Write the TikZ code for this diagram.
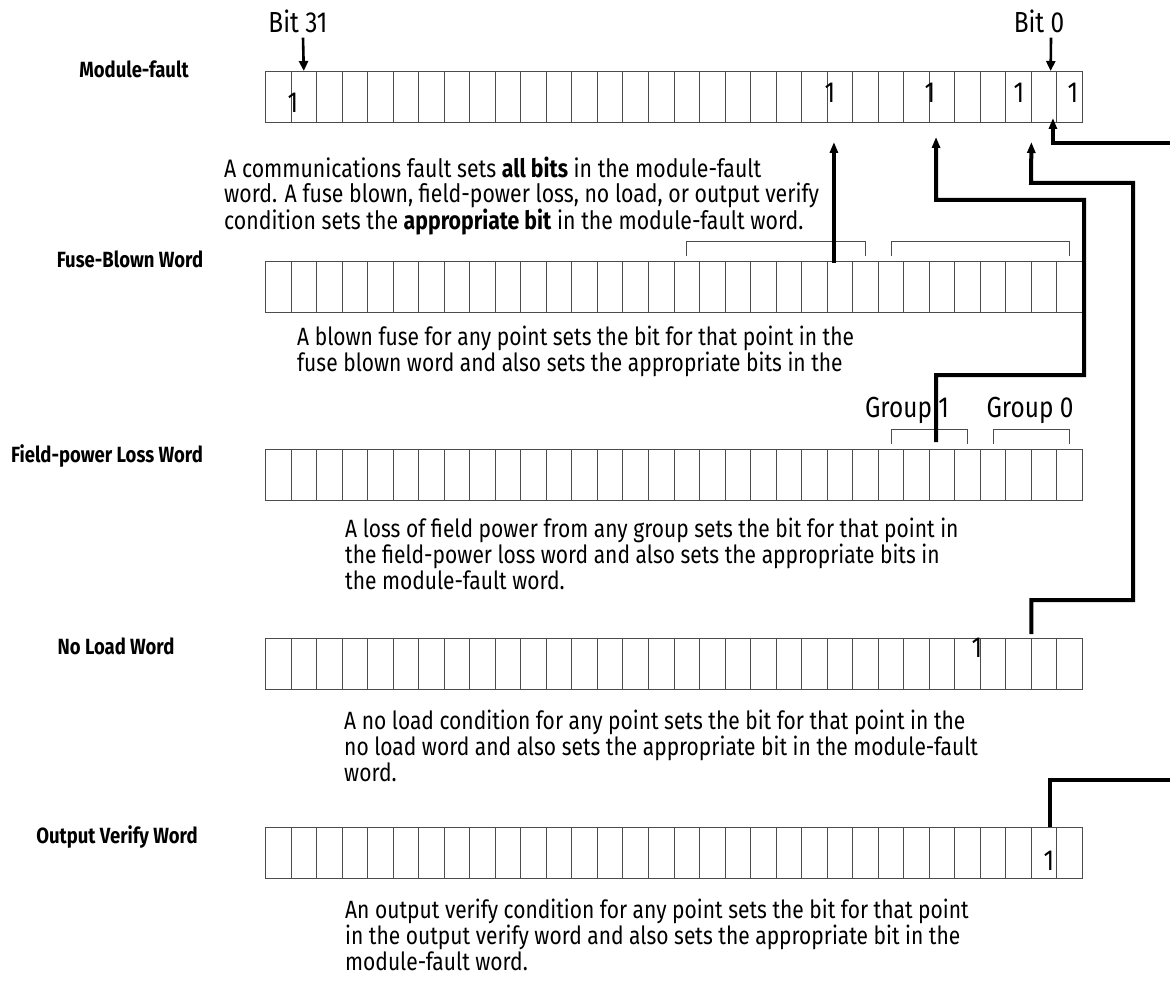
\documentclass[tikz,border=0pt]{standalone}
\usepackage{fontspec}
\setmainfont{Fira Sans}[FakeStretch=0.84]
\usetikzlibrary{arrows.meta}

\tikzset{
  cell/.style={draw=black!70, line width=0.9pt, minimum width=25.53pt, minimum height=51pt, inner sep=0pt, outer sep=0pt},
  rowlbl/.style={anchor=base, inner sep=0pt, font=\fontsize{22}{24}\selectfont\bfseries},
  para/.style={anchor=north west, align=left, inner sep=0pt, font=\fontsize{25}{26}\selectfont},
  bigtxt/.style={anchor=base, inner sep=0pt, font=\fontsize{29}{30}\selectfont},
  link/.style={line width=4pt, -{Triangle[width=8pt,length=11pt]}},
  bitarrow/.style={line width=2.6pt, -{Triangle[width=9pt,length=10pt]}},
  bracket/.style={draw=black!70, line width=0.9pt},
}

\begin{document}
\begin{tikzpicture}[x=1pt,y=-1pt]
\useasboundingbox (0,0) rectangle (1170,984);

% the five 32-bit words, bit 31 on the left
\foreach \r/\t in {mf/71,fb/261,fp/449,nl/638,ov/827}{
  \foreach \b in {0,...,31}{
    \node[cell] (\r-\b) at ({265.5+25.53*(31.5-\b)},{\t+25.5}) {};
  }
}

% word names
\node[rowlbl] (lbl-mf) at (134,78) {Module-fault};
\node[rowlbl] (lbl-fb) at (130,268) {Fuse-Blown Word};
\node[rowlbl] (lbl-fp) at (107,462) {Field-power Loss Word};
\node[rowlbl] (lbl-nl) at (116,654) {No Load Word};
\node[rowlbl] (lbl-ov) at (117,843) {Output Verify Word};

% bit markers
\node[bigtxt] (bit31) at (298,33) {Bit 31};
\node[bigtxt] (bit0) at (1039,33) {Bit 0};
\draw[bitarrow] ([xshift=5pt,yshift=-4pt]bit31.south) -- (mf-30.north);
\draw[bitarrow] ([xshift=12pt,yshift=-4pt]bit0.south) -- ([xshift=6.5pt]mf-1.north);

% set bits
\node[bigtxt] (one-a) at (293,113) {1};
\node[bigtxt] (one-b) at (830,103) {1};
\node[bigtxt] (one-c) at (930,103) {1};
\node[bigtxt] (one-d) at (1019,103) {1};
\node[bigtxt] (one-e) at (1073,103) {1};
\node[bigtxt] (one-f) at (977,657) {1};
\node[bigtxt] (one-g) at (1049,870) {1};

% groups
\node[bigtxt] (grp1) at (907,417) {Group 1};
\node[bigtxt] (grp0) at (1030,417) {Group 0};
\draw[bracket] ([yshift=5pt]fb-15.north) |- ([yshift=20pt]fb-8.north) -- ([yshift=5pt]fb-8.north);
\draw[bracket] ([yshift=5pt]fb-7.north) |- ([yshift=20pt]fb-0.north) -- ([yshift=5pt]fb-0.north);
\draw[bracket] ([yshift=5pt]fp-7.north) |- ([yshift=20pt]fp-4.north) -- ([yshift=5pt]fp-4.north);
\draw[bracket] ([yshift=5pt]fp-3.north) |- ([yshift=20pt]fp-0.north) -- ([yshift=5pt]fp-0.north);

% notes
\node[para, font=\fontsize{25.3}{25}\selectfont] (note-mf) at (224,157) {A communications fault sets \textbf{all bits} in the module-fault\\
word. A fuse blown, field-power loss, no load, or output verify\\
condition sets the \textbf{appropriate bit} in the module-fault word.};
\node[para] (note-fb) at (297,326) {A blown fuse for any point sets the bit for that point in the\\
fuse blown word and also sets the appropriate bits in the};
\node[para] (note-fp) at (345,518) {A loss of field power from any group sets the bit for that point in\\
the field-power loss word and also sets the appropriate bits in\\
the module-fault word.};
\node[para] (note-nl) at (344,710) {A no load condition for any point sets the bit for that point in the\\
no load word and also sets the appropriate bit in the module-fault\\
word.};
\node[para] (note-ov) at (345,899) {An output verify condition for any point sets the bit for that point\\
in the output verify word and also sets the appropriate bit in the\\
module-fault word.};

% feeds into the module-fault word
\coordinate (jog-fp) at (1084,375);
\coordinate (rise-fp) at (936,200);
\coordinate (jog-nl) at (1133,600);
\coordinate (rise-nl) at (1031,183);
\coordinate (edge-top) at (1170,143);
\coordinate (edge-bot) at (1170,780);
\draw[link] ([xshift=-6pt,yshift=-2pt]fb-9.north) -- ([xshift=-6pt,yshift=-20pt]mf-9.south);
\draw[link] ([xshift=-6pt,yshift=7pt]fp-5.north) |- (jog-fp) |- (rise-fp) -- ([xshift=-6pt,yshift=-15pt]mf-5.south);
\draw[link] ([yshift=4pt]nl-2.north east) |- (jog-nl) |- (rise-nl) -- ([yshift=-20pt]mf-2.south east);
\draw[link] (edge-top) -| ([xshift=-4pt,yshift=4pt]mf-0.south west);
\draw[line width=4pt] (edge-bot) -| ([xshift=-7pt]ov-0.north west);

\end{tikzpicture}
\end{document}
